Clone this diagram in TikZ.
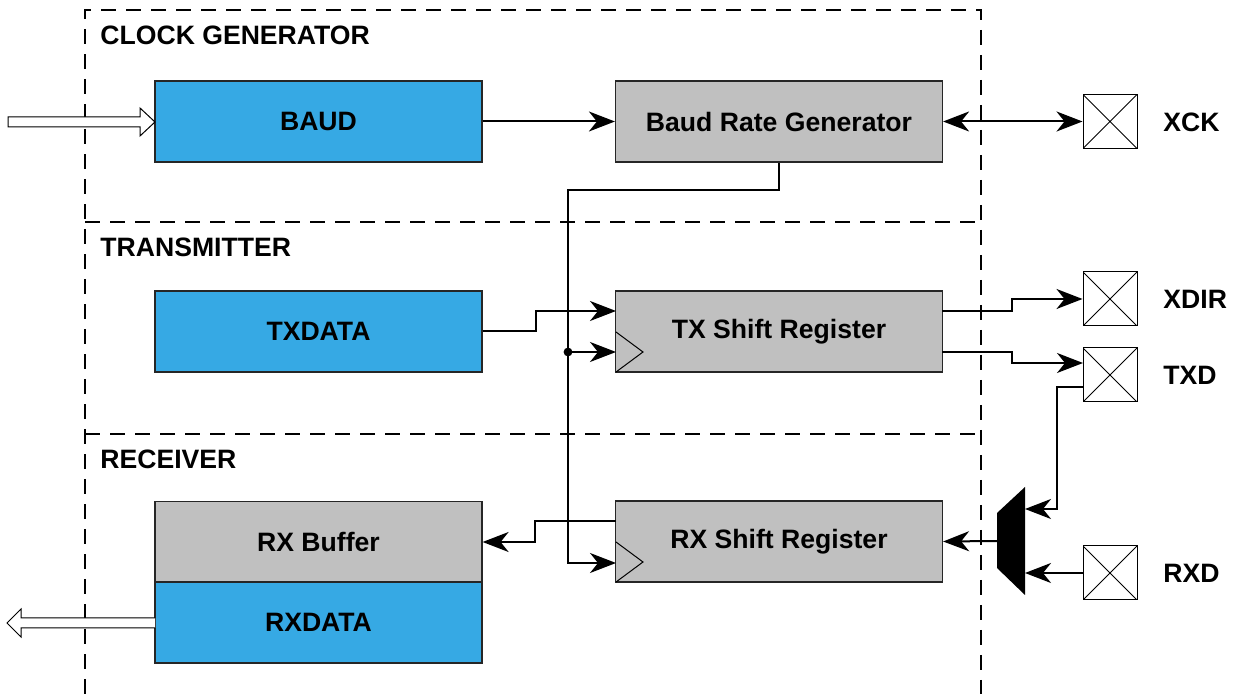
\documentclass[tikz,border=0pt]{standalone}
\usepackage{fontspec}
\setmainfont{Liberation Sans}
\usetikzlibrary{arrows.meta}
\definecolor{bblue}{HTML}{36A9E4}
\definecolor{bgray}{HTML}{C0C0C0}
\begin{document}
\begin{tikzpicture}[x=0.5pt,y=-0.5pt,
  every node/.style={font=\fontsize{13.3}{15}\bfseries\selectfont},
  blk/.style={draw=black!85,line width=0.6pt,minimum width=163.5pt,minimum height=40.5pt,inner sep=0pt,anchor=center},
  bluebox/.style={blk,fill=bblue},
  graybox/.style={blk,fill=bgray},
  pinbox/.style={draw,line width=0.5pt,fill=white,minimum size=27pt,inner sep=0pt,
    path picture={\draw[line width=0.4pt] (path picture bounding box.north west) -- (path picture bounding box.south east)
      (path picture bounding box.south west) -- (path picture bounding box.north east);}},
  lbl/.style={anchor=west,inner sep=0pt},
  conn/.style={line width=1pt},
  arr/.style={conn,-{Stealth[length=13pt,width=10pt,inset=4pt]}},
  darr/.style={conn,{Stealth[length=13pt,width=10pt,inset=4pt]}-{Stealth[length=13pt,width=10pt,inset=4pt]}},
  region/.style={line width=1pt,dash pattern=on 7.5pt off 5pt},
  hollow/.style={draw=black,line width=0.5pt,fill=white}
]
\useasboundingbox (0,0) rectangle (1237,694);

% regions
\draw[region] (85,694) -- (85,10) -- (981,10) -- (981,694);
\draw[region] (85,222) -- (981,222);
\draw[region] (85,434) -- (981,434);
\node[lbl] (lclk) at (100,35) {CLOCK GENERATOR};
\node[lbl] (ltx) at (100,247) {TRANSMITTER};
\node[lbl] (lrx) at (100,459) {RECEIVER};

% blocks
\node[bluebox] (baud) at (318.5,121.5) {BAUD};
\node[graybox] (brg) at (779,121.5) {Baud Rate Generator};
\node[bluebox] (txdata) at (318.5,331.5) {TXDATA};
\node[graybox] (txsr) at (779,331.5) {TX Shift Register};
\node[graybox] (rxbuf) at (318.5,542) {RX Buffer};
\node[bluebox] (rxdata) at (318.5,622.5) {RXDATA};
\node[graybox] (rxsr) at (779,541.5) {RX Shift Register};

% clock triangles
\draw[line width=0.5pt] (616,332) -- (643,352) -- (616,372);
\draw[line width=0.5pt] (616,542) -- (643,562) -- (616,582);

% pins
\node[pinbox] (xck) at (1110,121.5) {};
\node[pinbox] (xdir) at (1110,299) {};
\node[pinbox] (txd) at (1110,375) {};
\node[pinbox] (rxd) at (1110,573) {};
\node[lbl] (lxck) at (1163,122) {XCK};
\node[lbl] (lxdir) at (1163,299) {XDIR};
\node[lbl] (ltxd) at (1163,375) {TXD};
\node[lbl] (lrxd) at (1163,573) {RXD};

% hollow arrows
\draw[hollow] (8,117) -- (140,117) -- (140,108) -- (155,122) -- (140,136) -- (140,127) -- (8,127) -- cycle;
\draw[hollow] (155,618) -- (21,618) -- (21,609) -- (7,623) -- (21,637) -- (21,628) -- (155,628);

% mux
\coordinate (muxout) at (997,541);
\coordinate (muxin1) at (1025,509);
\coordinate (muxin2) at (1025,573);
\fill (997,513) -- (1025,487) -- (1025,595) -- (997,568) -- cycle;

% coordinates
\coordinate (bend) at (568,190);
\coordinate (jdot) at (568,352);
\coordinate (txck) at (616,352);
\coordinate (rxck) at (616,563);
\coordinate (txin) at (616,311);
\coordinate (rxout) at (616,521);
\coordinate (txo1) at (942,311);
\coordinate (txo2) at (942,352);
\coordinate (txdin) at (1083,363);
\coordinate (txdout) at (1083,387);

% connectors
\draw[arr] (baud.east) -- (brg.west);
\draw[darr] (brg.east) -- (xck.west);
\draw[arr] (brg.south) |- (bend) |- (rxck);
\fill (jdot) circle (2.2pt);
\draw[arr] (jdot) -- (txck);
\draw[arr] (txdata.east) -- ++(53,0) |- (txin);
\draw[arr] (rxout) -- ++(-81,0) |- (rxbuf.east);
\draw[arr] (txo1) -- ++(70,0) |- (xdir.west);
\draw[arr] (txo2) -- ++(70,0) |- (txdin);
\draw[arr] (txdout) -- ++(-26,0) |- (muxin1);
\draw[arr] (rxd.west) -- (muxin2);
\draw[arr] (muxout) -- (rxsr.east);
\end{tikzpicture}
\end{document}
